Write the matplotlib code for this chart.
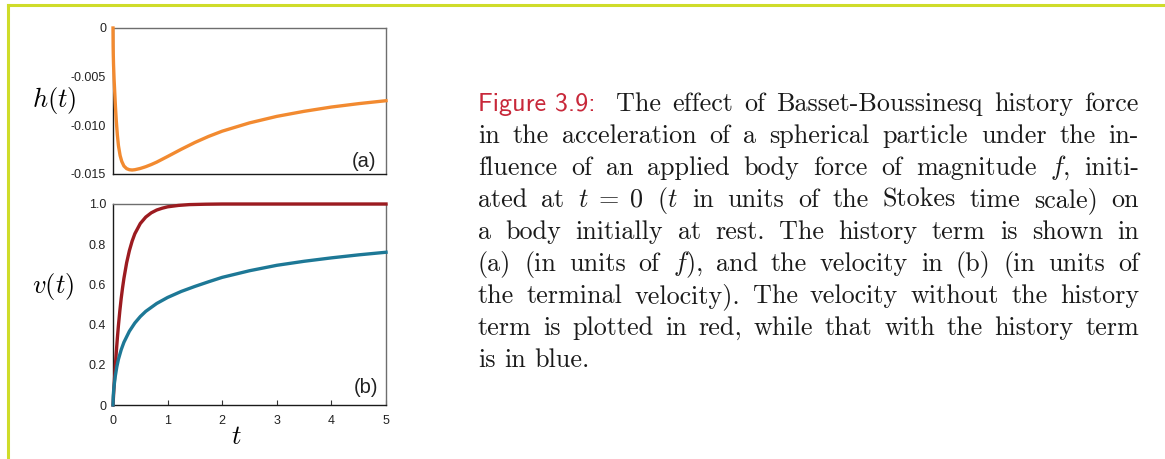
import matplotlib.pyplot as plt
from matplotlib.lines import Line2D

plt.rcParams['mathtext.fontset'] = 'cm'

# history force h(t), in units of f
t_h = [0, 0.0025, 0.005, 0.01, 0.02, 0.03, 0.045, 0.06, 0.08, 0.1, 0.13, 0.16,
       0.2, 0.25, 0.3, 0.35, 0.4, 0.5, 0.6, 0.7, 0.8, 1.0, 1.25, 1.5, 1.75,
       2.0, 2.5, 3.0, 3.5, 4.0, 4.5, 5.0]
h_vals = [0, -0.0019, -0.0027, -0.0038, -0.0053, -0.0064, -0.0081, -0.0095,
          -0.0110, -0.0121, -0.0131, -0.0137, -0.01418, -0.01445, -0.01456,
          -0.01459, -0.01456, -0.01443, -0.01425, -0.01403, -0.01378, -0.01320,
          -0.01246, -0.01176, -0.01114, -0.01060, -0.00975, -0.00908, -0.00856,
          -0.00812, -0.00777, -0.00747]

# velocity without the history term
t_red = [0, 0.02, 0.04, 0.06, 0.08, 0.1, 0.125, 0.15, 0.175, 0.2, 0.25, 0.3,
         0.35, 0.4, 0.5, 0.6, 0.7, 0.8, 0.9, 1.0, 1.2, 1.4, 1.7, 2.0, 3.0, 5.0]
v_red = [0, 0.095, 0.183, 0.262, 0.333, 0.397, 0.468, 0.53, 0.583, 0.63, 0.708,
         0.768, 0.815, 0.852, 0.903, 0.935, 0.956, 0.97, 0.979, 0.986, 0.993,
         0.997, 0.999, 1.0, 1.0, 1.0]

# velocity with the history term
t_blue = [0, 0.005, 0.01, 0.02, 0.04, 0.07, 0.1, 0.15, 0.2, 0.3, 0.4, 0.5, 0.6,
          0.8, 1.0, 1.25, 1.5, 1.75, 2.0, 2.5, 3.0, 3.5, 4.0, 4.5, 5.0]
v_blue = [0, 0.045, 0.065, 0.095, 0.14, 0.19, 0.228, 0.275, 0.312, 0.367, 0.408,
          0.44, 0.466, 0.505, 0.535, 0.565, 0.59, 0.613, 0.635, 0.668, 0.695,
          0.715, 0.732, 0.747, 0.76]

h_ticks = [0, -0.005, -0.010, -0.015]
h_tick_labels = ['0', '-0.005', '-0.010', '-0.015']
v_ticks = [0, 0.2, 0.4, 0.6, 0.8, 1.0]
v_tick_labels = ['0', '0.2', '0.4', '0.6', '0.8', '1.0']
t_ticks = [0, 1, 2, 3, 4, 5]
t_tick_labels = ['0', '1', '2', '3', '4', '5']

caption_label = 'Figure 3.9:'
caption_lines = [
    'The effect of Basset-Boussinesq history force',
    'in the acceleration of a spherical particle under the in-',
    'fluence of an applied body force of magnitude $f$, initi-',
    r'ated at $t\;=\;0$ ($t$ in units of the Stokes time scale) on',
    'a body initially at rest. The history term is shown in',
    '(a) (in units of $f$), and the velocity in (b) (in units of',
    'the terminal velocity). The velocity without the history',
    'term is plotted in red, while that with the history term',
    'is in blue.',
]

W, H = 1165, 459
fig = plt.figure(figsize=(W / 100, H / 100), dpi=100)

tick_font = 'Liberation Sans'

ax_h = fig.add_axes([113 / W, 1 - 174 / H, 273 / W, 146 / H])
ax_v = fig.add_axes([113 / W, 1 - 405 / H, 273 / W, 201 / H])

for ax in (ax_h, ax_v):
    ax.set_xlim(0, 5)
    for side in ('left', 'bottom'):
        ax.spines[side].set_color('#1a1a1a')
    for side in ('top', 'right'):
        ax.spines[side].set_color('#6e6e6e')
    for sp in ax.spines.values():
        sp.set_linewidth(1.0)
    ax.tick_params(axis='y', length=0, pad=5, labelcolor='#222222')

ax_h.plot(t_h, h_vals, color='#f28a30', lw=2.4, clip_on=False, zorder=3)
ax_h.set_ylim(-0.015, 0)
ax_h.set_yticks(h_ticks)
ax_h.set_yticklabels(h_tick_labels, fontfamily=tick_font, fontsize=9)
ax_h.set_xticks([])
ax_h.text(0.92, 0.085, '(a)', transform=ax_h.transAxes, ha='center',
          va='center', fontsize=14.5, fontfamily=tick_font, color='#222222')

ax_v.plot(t_red, v_red, color='#9c1b20', lw=2.4, clip_on=False, zorder=3)
ax_v.plot(t_blue, v_blue, color='#1d7896', lw=2.4, clip_on=False, zorder=3)
ax_v.set_ylim(0, 1)
ax_v.set_yticks(v_ticks)
ax_v.set_yticklabels(v_tick_labels, fontfamily=tick_font, fontsize=9)
ax_v.set_xticks(t_ticks)
ax_v.set_xticklabels(t_tick_labels, fontfamily=tick_font, fontsize=9)
ax_v.tick_params(axis='x', direction='in', length=3.5, width=0.8, pad=7,
                 labelcolor='#222222', color='#333333')
ax_v.text(0.928, 0.085, '(b)', transform=ax_v.transAxes, ha='center',
          va='center', fontsize=14.5, fontfamily=tick_font, color='#222222')

fig.text(54 / W, 1 - 100 / H, '$h(t)$', ha='center', va='center', fontsize=19)
fig.text(53 / W, 1 - 287 / H, '$v(t)$', ha='center', va='center', fontsize=19)
fig.text(236 / W, 1 - 437 / H, '$t$', ha='center', va='center', fontsize=19)

# frame rule on the left and top
rule = '#cfdc2a'
fig.add_artist(Line2D([8.3 / W, 8.3 / W], [0, 1 - 4.7 / H], color=rule, lw=2.2,
                      transform=fig.transFigure))
fig.add_artist(Line2D([8.3 / W, 1], [1 - 4.7 / H, 1 - 4.7 / H], color=rule,
                      lw=2.2, transform=fig.transFigure))

# justified caption
renderer = fig.canvas.get_renderer()
x0, x1 = 478, 1139
base0, leading = 111, 32
cap_size = 18.8


def word_text(s, base, family, color):
    return fig.text(0, 1 - base / H, s, fontfamily=family, color=color,
                    fontsize=cap_size, va='baseline', ha='left')


for i, line in enumerate(caption_lines):
    base = base0 + i * leading
    items = []
    if i == 0:
        items.append((word_text(caption_label, base, 'cmss10', '#c8283a'), 9))
    for w in line.split(' '):
        items.append((word_text(w, base, 'cmr10', '#1a1a1a'), 0))
    widths = [t.get_window_extent(renderer).width for t, _ in items]
    extra = sum(e for _, e in items)
    if i == len(caption_lines) - 1:
        gap = cap_size * 100 / 72 * 0.333
    else:
        gap = (x1 - x0 - sum(widths) - extra) / (len(items) - 1)
    x = x0
    for (t, e), w in zip(items, widths):
        t.set_x(x / W)
        x += w + gap + e

fig.savefig('out.png', dpi=100)
